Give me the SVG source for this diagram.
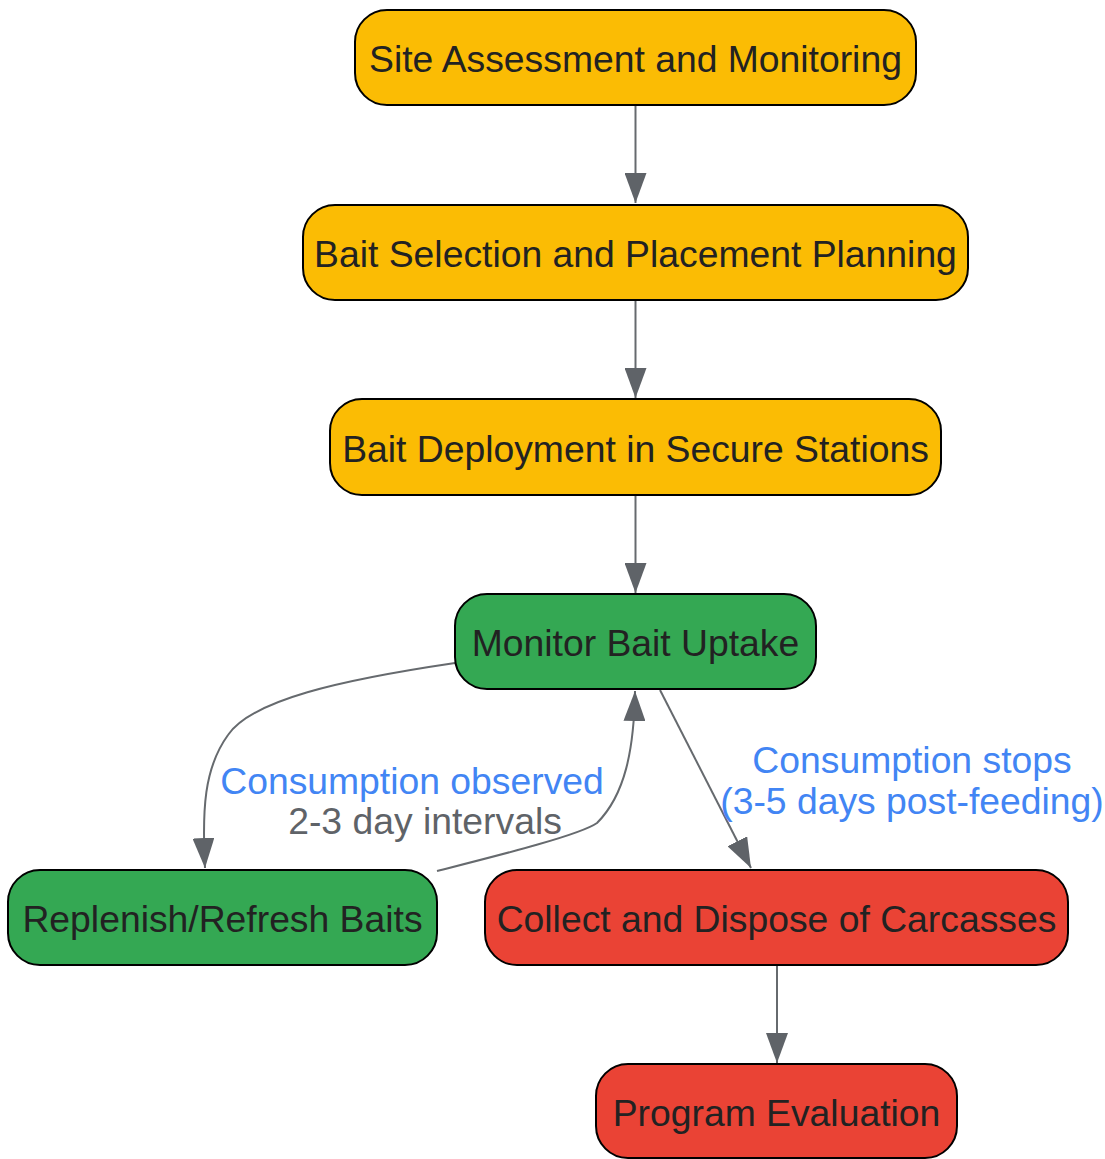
<svg xmlns="http://www.w3.org/2000/svg" width="1105" height="1159" viewBox="0 0 1105 1159">
<defs>
<style>
.node rect{stroke:#000;stroke-width:2}
.node text{font-family:"Liberation Sans",Arial,sans-serif;font-size:37.3px;fill:#222;text-anchor:middle}
.y rect{fill:#fbbc04}
.g rect{fill:#34a853}
.r rect{fill:#ea4335}
.edge{fill:none;stroke:#666a6e;stroke-width:2}
.lbl{font-family:"Liberation Sans",Arial,sans-serif;font-size:37.3px;text-anchor:middle}
.blue{fill:#4285f4}
.gray{fill:#5f6368}
</style>
<marker id="ah" markerUnits="userSpaceOnUse" markerWidth="31" markerHeight="22" refX="30" refY="11" orient="auto">
<path d="M0,0 L30,11 L0,22 z" fill="#5f6368"/>
</marker>
</defs>
<g id="edges">
<path class="edge" d="M635.5,106 L635.5,203" marker-end="url(#ah)"/>
<path class="edge" d="M635.5,301 L635.5,398" marker-end="url(#ah)"/>
<path class="edge" d="M635.5,496 L635.5,593" marker-end="url(#ah)"/>
<path class="edge" d="M455,663 C340,680 252,700 228,735 C204,768 202,810 205,868" marker-end="url(#ah)"/>
<path class="edge" d="M437,871 C500,855 580,835 597,823 C625,795 634,750 635,691" marker-end="url(#ah)"/>
<path class="edge" d="M660,690 L751,868" marker-end="url(#ah)"/>
<path class="edge" d="M777,966 L777,1063" marker-end="url(#ah)"/>
<text class="lbl blue" x="412" y="794">Consumption observed</text>
<text class="lbl gray" x="425" y="834">2-3 day intervals</text>
<text class="lbl blue" x="912" y="773">Consumption stops</text>
<text class="lbl blue" x="912" y="814">(3-5 days post-feeding)</text>
</g>
<g id="n1" class="node y"><rect x="355" y="10" width="561" height="95" rx="32"/><text x="635.5" y="72">Site Assessment and Monitoring</text></g>
<g id="n2" class="node y"><rect x="303" y="205" width="665" height="95" rx="32"/><text x="635.5" y="267">Bait Selection and Placement Planning</text></g>
<g id="n3" class="node y"><rect x="330" y="399" width="611" height="96" rx="32"/><text x="635.5" y="462">Bait Deployment in Secure Stations</text></g>
<g id="n4" class="node g"><rect x="455" y="594" width="361" height="95" rx="32"/><text x="635.5" y="656">Monitor Bait Uptake</text></g>
<g id="n5" class="node g"><rect x="8" y="870" width="429" height="95" rx="32"/><text x="222.5" y="932">Replenish/Refresh Baits</text></g>
<g id="n6" class="node r"><rect x="485" y="870" width="583" height="95" rx="32"/><text x="776.5" y="932">Collect and Dispose of Carcasses</text></g>
<g id="n7" class="node r"><rect x="596" y="1064" width="361" height="94" rx="32"/><text x="776.5" y="1126">Program Evaluation</text></g>
</svg>
